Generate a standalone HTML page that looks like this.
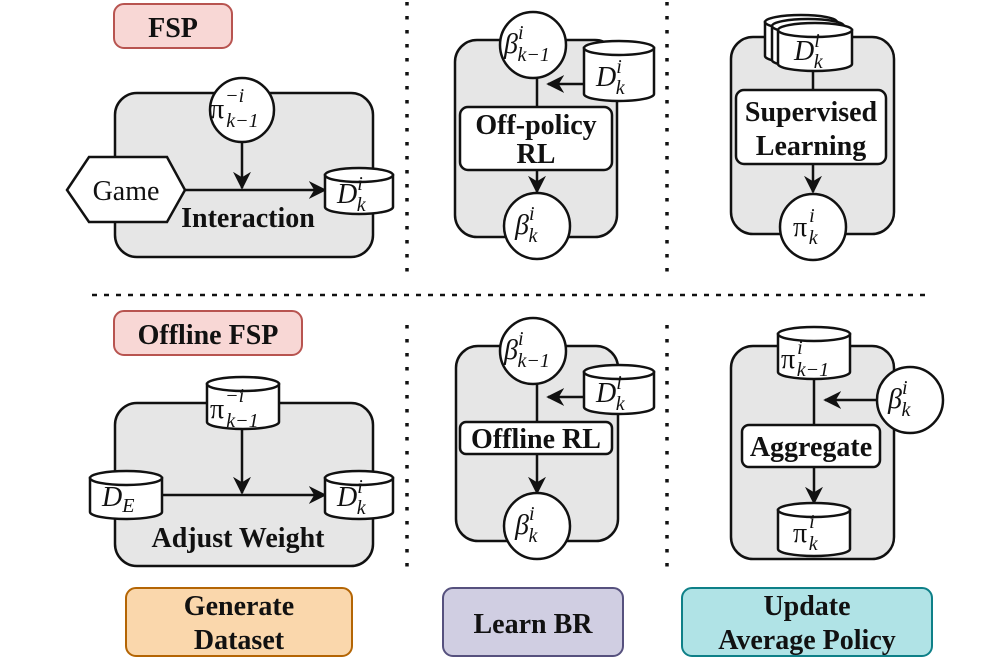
<!DOCTYPE html>
<html><head><meta charset="utf-8"><style>
html,body{margin:0;padding:0;background:#fff}
svg{display:block}
.t{font-family:"Liberation Serif",serif;font-weight:bold;fill:#111}
.m{font-family:"Liberation Serif",serif;font-style:italic;fill:#111}
.g{fill:#e6e6e6;stroke:#111;stroke-width:2.5}
.w{fill:#fff;stroke:#111;stroke-width:2.5}
.l{stroke:#111;stroke-width:2.5;fill:none}
</style></head><body>
<svg width="996" height="662" viewBox="0 0 996 662" xmlns="http://www.w3.org/2000/svg">
<defs>
<marker id="b" viewBox="0 0 10 10" markerWidth="18" markerHeight="18" refX="9" refY="5" orient="auto" markerUnits="userSpaceOnUse"><path d="M0,0 L10,5 L0,10 L3,5 Z" fill="#111"/></marker></defs>

<line x1="407" y1="2" x2="407" y2="272" stroke="#111" stroke-width="3.5" stroke-dasharray="3.5,10.5"/>
<line x1="667" y1="2" x2="667" y2="272" stroke="#111" stroke-width="3.5" stroke-dasharray="3.5,10.5"/>
<line x1="407" y1="325" x2="407" y2="575" stroke="#111" stroke-width="3.5" stroke-dasharray="3.5,10.5"/>
<line x1="667" y1="325" x2="667" y2="575" stroke="#111" stroke-width="3.5" stroke-dasharray="3.5,10.5"/>
<line x1="92" y1="295" x2="932" y2="295" stroke="#111" stroke-width="2.5" stroke-dasharray="5,7"/>

<rect x="114" y="4" width="118" height="44" rx="10" fill="#f8d7d5" stroke="#b85450" stroke-width="2"/>
<text class="t" x="173" y="37" font-size="28" text-anchor="middle">FSP</text>
<rect x="114" y="311" width="188" height="44" rx="10" fill="#f8d7d5" stroke="#b85450" stroke-width="2"/>
<text class="t" x="208" y="344" font-size="28" text-anchor="middle">Offline FSP</text>

<!-- Panel 1 -->
<rect class="g" x="115" y="93" width="258" height="164" rx="22"/>
<line class="l" x1="242" y1="141" x2="242" y2="188" marker-end="url(#b)"/>
<line class="l" x1="185" y1="190" x2="325" y2="190" marker-end="url(#b)"/>
<polygon class="w" points="67,190 89,157 167,157 185,190 167,222 89,222"/>
<text x="126" y="200" font-family="Liberation Serif,serif" font-size="28" text-anchor="middle" fill="#111">Game</text>
<circle class="w" cx="242" cy="110" r="32"/>
<text class="m" x="210" y="118" font-size="28"><tspan font-style="normal">π</tspan><tspan font-size="20" dx="1" dy="-16">−i</tspan><tspan font-size="20" dx="-18" dy="25">k−1</tspan></text>
<path class="w" d="M325,175 L325,207 A34,7 0 0 0 393,207 L393,175 Z"/><ellipse class="w" cx="359" cy="175" rx="34" ry="7"/>
<text class="m" x="337" y="203" font-size="28">D<tspan font-size="20" dy="-13">i</tspan><tspan font-size="20" dx="-6" dy="21">k</tspan></text>
<text class="t" x="248" y="227" font-size="28" text-anchor="middle">Interaction</text>

<!-- Panel 2 -->
<rect class="g" x="455" y="40" width="162" height="197" rx="22"/>
<line class="l" x1="537" y1="78" x2="537" y2="192" marker-end="url(#b)"/>
<line class="l" x1="584" y1="84" x2="548" y2="84" marker-end="url(#b)"/>
<path class="w" d="M584,48 L584,94 A35,7 0 0 0 654,94 L654,48 Z"/><ellipse class="w" cx="619" cy="48" rx="35" ry="7"/>
<text class="m" x="596" y="86" font-size="28">D<tspan font-size="20" dy="-13">i</tspan><tspan font-size="20" dx="-6" dy="21">k</tspan></text>
<rect class="w" x="460" y="107" width="152" height="63" rx="8"/>
<text class="t" x="536" y="134" font-size="28" text-anchor="middle">Off-policy</text>
<text class="t" x="536" y="163" font-size="28" text-anchor="middle">RL</text>
<circle class="w" cx="533" cy="45" r="33"/>
<text class="m" x="504" y="53" font-size="28">β<tspan font-size="20" dy="-14">i</tspan><tspan font-size="20" dx="-6" dy="22">k−1</tspan></text>
<circle class="w" cx="537" cy="226" r="33"/>
<text class="m" x="515" y="234" font-size="28">β<tspan font-size="20" dy="-14">i</tspan><tspan font-size="20" dx="-6" dy="22">k</tspan></text>

<!-- Panel 3 -->
<rect class="g" x="731" y="37" width="163" height="197" rx="22"/>
<line class="l" x1="813" y1="70" x2="813" y2="192" marker-end="url(#b)"/>
<path class="w" d="M765,22 L765,56 A36,7 0 0 0 837,56 L837,22 Z"/><ellipse class="w" cx="801" cy="22" rx="36" ry="7"/>
<path class="w" d="M772,26 L772,60 A36,7 0 0 0 844,60 L844,26 Z"/><ellipse class="w" cx="808" cy="26" rx="36" ry="7"/>
<path class="w" d="M778,30 L778,64 A37,7 0 0 0 852,64 L852,30 Z"/><ellipse class="w" cx="815" cy="30" rx="37" ry="7"/>
<text class="m" x="794" y="60" font-size="28">D<tspan font-size="20" dy="-13">i</tspan><tspan font-size="20" dx="-6" dy="21">k</tspan></text>
<rect class="w" x="736" y="90" width="150" height="74" rx="8"/>
<text class="t" x="811" y="121" font-size="28" text-anchor="middle">Supervised</text>
<text class="t" x="811" y="155" font-size="28" text-anchor="middle">Learning</text>
<circle class="w" cx="813" cy="227" r="33"/>
<text class="m" x="793" y="236" font-size="28"><tspan font-style="normal">π</tspan><tspan font-size="20" dx="2" dy="-14">i</tspan><tspan font-size="20" dx="-6" dy="22">k</tspan></text>

<!-- Panel 4 -->
<rect class="g" x="115" y="403" width="258" height="163" rx="22"/>
<line class="l" x1="242" y1="428" x2="242" y2="493" marker-end="url(#b)"/>
<line class="l" x1="162" y1="495" x2="325" y2="495" marker-end="url(#b)"/>
<path class="w" d="M207,384 L207,422 A36,7 0 0 0 279,422 L279,384 Z"/><ellipse class="w" cx="243" cy="384" rx="36" ry="7"/>
<text class="m" x="210" y="418" font-size="28"><tspan font-style="normal">π</tspan><tspan font-size="20" dx="1" dy="-16">−i</tspan><tspan font-size="20" dx="-18" dy="25">k−1</tspan></text>
<path class="w" d="M90,478 L90,512 A36,7 0 0 0 162,512 L162,478 Z"/><ellipse class="w" cx="126" cy="478" rx="36" ry="7"/>
<text class="m" x="102" y="506" font-size="28">D<tspan font-size="20" dy="6">E</tspan></text>
<path class="w" d="M325,478 L325,512 A34,7 0 0 0 393,512 L393,478 Z"/><ellipse class="w" cx="359" cy="478" rx="34" ry="7"/>
<text class="m" x="337" y="506" font-size="28">D<tspan font-size="20" dy="-13">i</tspan><tspan font-size="20" dx="-6" dy="21">k</tspan></text>
<text class="t" x="238" y="547" font-size="28" text-anchor="middle">Adjust Weight</text>

<!-- Panel 5 -->
<rect class="g" x="456" y="346" width="162" height="195" rx="22"/>
<line class="l" x1="537" y1="380" x2="537" y2="493" marker-end="url(#b)"/>
<line class="l" x1="584" y1="397" x2="548" y2="397" marker-end="url(#b)"/>
<path class="w" d="M584,372 L584,407 A35,7 0 0 0 654,407 L654,372 Z"/><ellipse class="w" cx="619" cy="372" rx="35" ry="7"/>
<text class="m" x="596" y="402" font-size="28">D<tspan font-size="20" dy="-13">i</tspan><tspan font-size="20" dx="-6" dy="21">k</tspan></text>
<rect class="w" x="460" y="422" width="152" height="32" rx="6"/>
<text class="t" x="536" y="448" font-size="28" text-anchor="middle">Offline RL</text>
<circle class="w" cx="533" cy="351" r="33"/>
<text class="m" x="504" y="359" font-size="28">β<tspan font-size="20" dy="-14">i</tspan><tspan font-size="20" dx="-6" dy="22">k−1</tspan></text>
<circle class="w" cx="537" cy="526" r="33"/>
<text class="m" x="515" y="534" font-size="28">β<tspan font-size="20" dy="-14">i</tspan><tspan font-size="20" dx="-6" dy="22">k</tspan></text>

<!-- Panel 6 -->
<rect class="g" x="731" y="346" width="163" height="213" rx="22"/>
<line class="l" x1="814" y1="378" x2="814" y2="503" marker-end="url(#b)"/>
<line class="l" x1="877" y1="400" x2="825" y2="400" marker-end="url(#b)"/>
<path class="w" d="M778,334 L778,372 A36,7 0 0 0 850,372 L850,334 Z"/><ellipse class="w" cx="814" cy="334" rx="36" ry="7"/>
<text class="m" x="781" y="368" font-size="28"><tspan font-style="normal">π</tspan><tspan font-size="20" dx="2" dy="-14">i</tspan><tspan font-size="20" dx="-6" dy="22">k−1</tspan></text>
<circle class="w" cx="910" cy="400" r="33"/>
<text class="m" x="888" y="408" font-size="28">β<tspan font-size="20" dy="-14">i</tspan><tspan font-size="20" dx="-6" dy="22">k</tspan></text>
<rect class="w" x="742" y="425" width="138" height="42" rx="7"/>
<text class="t" x="811" y="456" font-size="28" text-anchor="middle">Aggregate</text>
<path class="w" d="M778,510 L778,549 A36,7 0 0 0 850,549 L850,510 Z"/><ellipse class="w" cx="814" cy="510" rx="36" ry="7"/>
<text class="m" x="793" y="542" font-size="28"><tspan font-style="normal">π</tspan><tspan font-size="20" dx="2" dy="-14">i</tspan><tspan font-size="20" dx="-6" dy="22">k</tspan></text>

<!-- bottom labels -->
<rect x="126" y="588" width="226" height="68" rx="10" fill="#fad7ac" stroke="#b46504" stroke-width="2"/>
<text class="t" x="239" y="615" font-size="28" text-anchor="middle">Generate</text>
<text class="t" x="239" y="649" font-size="28" text-anchor="middle">Dataset</text>
<rect x="443" y="588" width="180" height="68" rx="10" fill="#d0cee2" stroke="#56517e" stroke-width="2"/>
<text class="t" x="533" y="633" font-size="28" text-anchor="middle">Learn BR</text>
<rect x="682" y="588" width="250" height="68" rx="10" fill="#b0e3e6" stroke="#0e8088" stroke-width="2"/>
<text class="t" x="807" y="615" font-size="28" text-anchor="middle">Update</text>
<text class="t" x="807" y="649" font-size="28" text-anchor="middle">Average Policy</text>
</svg>
</body></html>
